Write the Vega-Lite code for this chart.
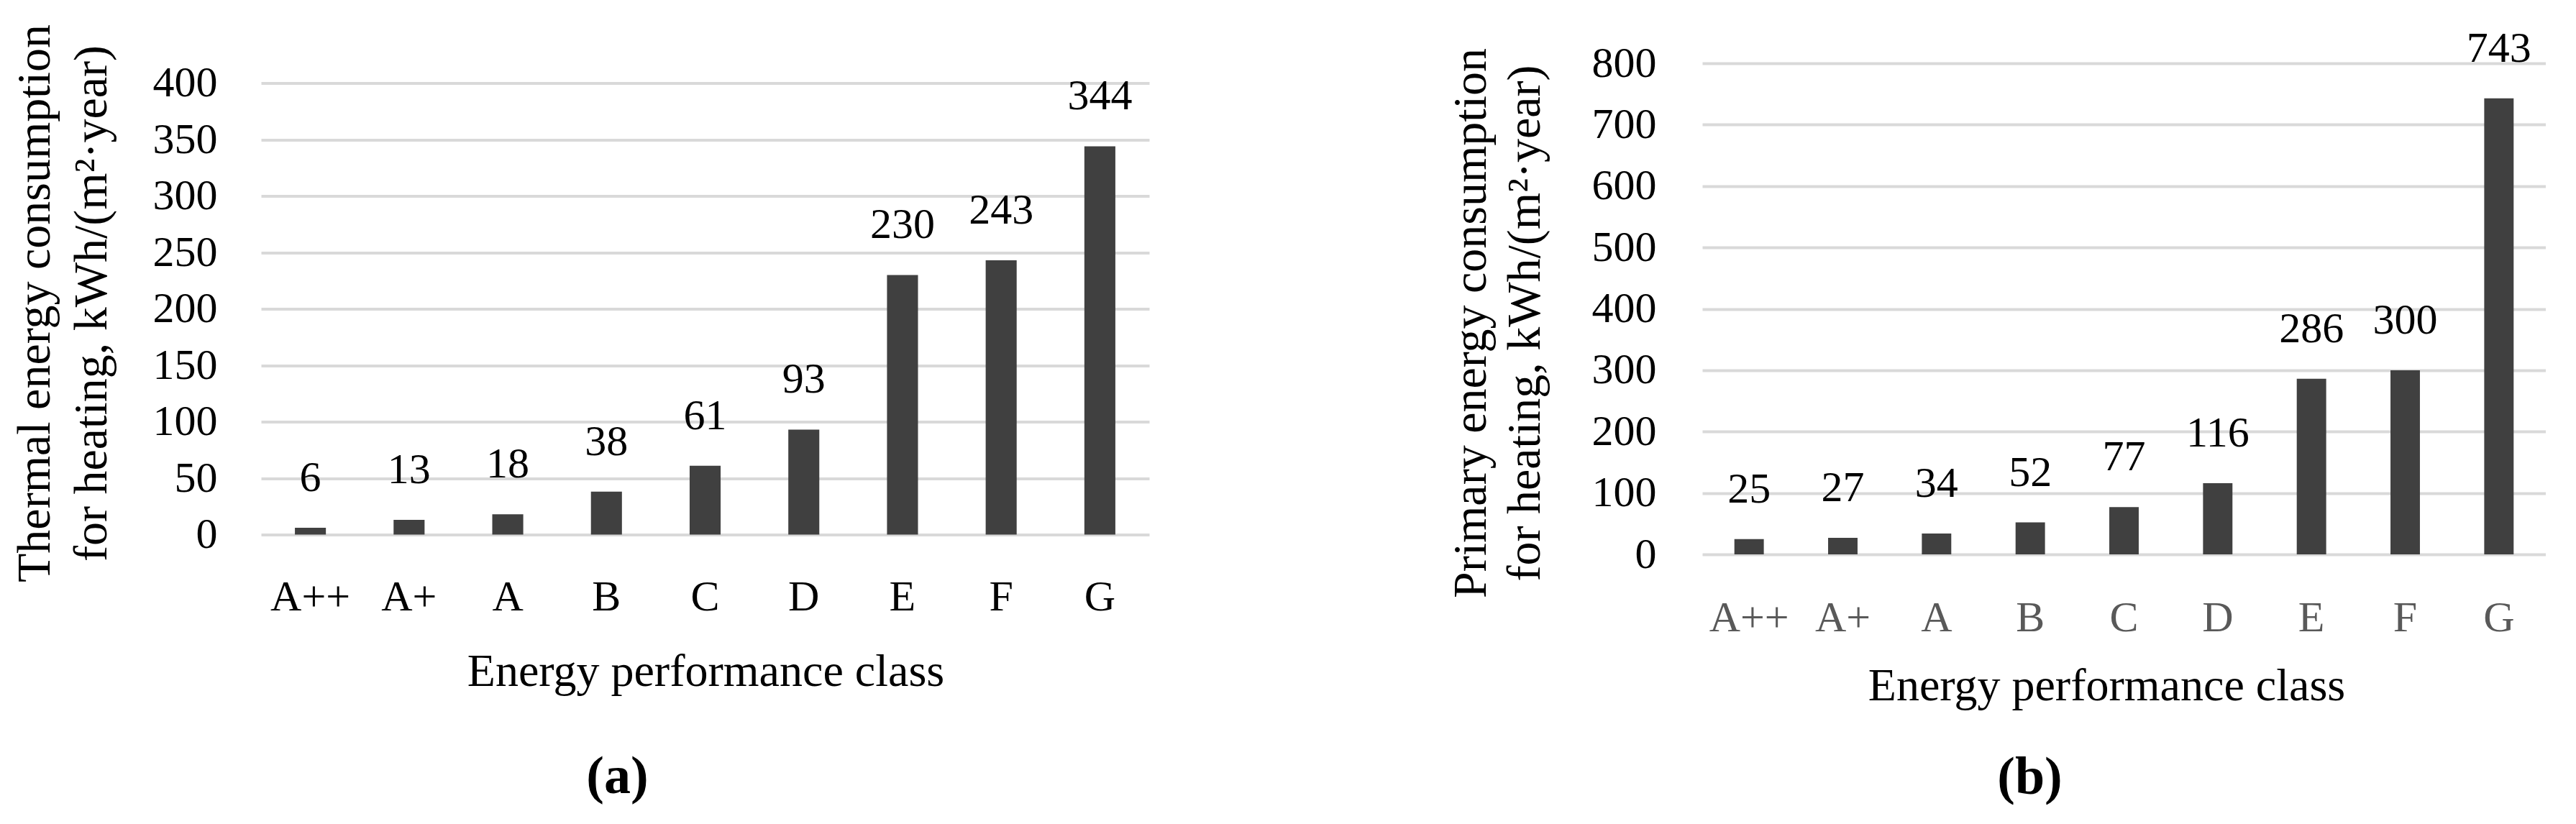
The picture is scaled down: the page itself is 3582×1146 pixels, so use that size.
{
  "$schema": "https://vega.github.io/schema/vega-lite/v6.json",
  "autosize": {"type": "pad"},
  "padding": {"left": 15, "top": 33, "right": 0, "bottom": 0},
  "background": "white",
  "config": {
    "font": "Liberation Serif",
    "view": {"stroke": null},
    "axis": {
      "labelFont": "Liberation Serif",
      "titleFont": "Liberation Serif",
      "labelFontSize": 60,
      "titleFontSize": 64,
      "labelColor": "#000000",
      "titleColor": "#000000",
      "titleFontWeight": "normal",
      "domain": false,
      "ticks": false,
      "tickSize": 0,
      "gridColor": "#d9d9d9",
      "gridWidth": 4
    },
    "title": {"font": "Liberation Serif", "color": "#000000"}
  },
  "datasets": {
    "thermal": [
      {"class": "A++", "value": 6},
      {"class": "A+", "value": 13},
      {"class": "A", "value": 18},
      {"class": "B", "value": 38},
      {"class": "C", "value": 61},
      {"class": "D", "value": 93},
      {"class": "E", "value": 230},
      {"class": "F", "value": 243},
      {"class": "G", "value": 344}
    ],
    "primary": [
      {"class": "A++", "value": 25},
      {"class": "A+", "value": 27},
      {"class": "A", "value": 34},
      {"class": "B", "value": 52},
      {"class": "C", "value": 77},
      {"class": "D", "value": 116},
      {"class": "E", "value": 286},
      {"class": "F", "value": 300},
      {"class": "G", "value": 743}
    ]
  },
  "bounds": "flush",
  "center": true,
  "spacing": 769,
  "hconcat": [
    {
      "width": 1235,
      "height": 628,
      "data": {"name": "thermal"},
      "title": {"text": "(a)", "orient": "bottom", "anchor": "middle", "frame": "group", "dx": -122, "offset": 136, "baseline": "alphabetic", "fontSize": 74, "fontWeight": "bold"},
      "encoding": {
        "x": {
          "field": "class", "type": "nominal", "sort": null,
          "scale": {"paddingInner": 0.686, "paddingOuter": 0.343},
          "axis": {"title": "Energy performance class", "labelAngle": 0, "labelPadding": 105, "labelBaseline": "alphabetic", "grid": false, "titleX": 618, "titleY": 210, "titleAlign": "center", "titleBaseline": "alphabetic"}
        },
        "y": {
          "field": "value", "type": "quantitative",
          "scale": {"domain": [0, 400], "nice": false},
          "axis": {"values": [0, 50, 100, 150, 200, 250, 300, 350, 400], "grid": true, "labelPadding": 61, "labelBaseline": "middle",
            "title": ["Thermal energy consumption", "for heating, kWh/(m²·year)"],
            "titleFontSize": 66, "titleLineHeight": 79, "titleX": -295, "titleY": 306, "titleAngle": -90, "titleAlign": "center", "titleBaseline": "alphabetic"}
        }
      },
      "layer": [
        {"mark": {"type": "bar", "color": "#404040"}},
        {"mark": {"type": "text", "baseline": "alphabetic", "dy": -51, "fontSize": 60, "color": "#000000", "font": "Liberation Serif"},
         "encoding": {"text": {"field": "value", "type": "quantitative"}}}
      ]
    },
    {
      "width": 1173,
      "height": 683,
      "data": {"name": "primary"},
      "title": {"text": "(b)", "orient": "bottom", "anchor": "middle", "frame": "group", "dx": -131, "offset": 118, "baseline": "alphabetic", "fontSize": 74, "fontWeight": "bold"},
      "encoding": {
        "x": {
          "field": "class", "type": "nominal", "sort": null,
          "scale": {"paddingInner": 0.686, "paddingOuter": 0.343},
          "axis": {"title": "Energy performance class", "labelAngle": 0, "labelPadding": 106, "labelBaseline": "alphabetic", "labelColor": "#595959", "grid": false, "titleX": 562, "titleY": 202, "titleAlign": "center", "titleBaseline": "alphabetic"}
        },
        "y": {
          "field": "value", "type": "quantitative",
          "scale": {"domain": [0, 800], "nice": false},
          "axis": {"values": [0, 100, 200, 300, 400, 500, 600, 700, 800], "grid": true, "labelPadding": 64, "labelBaseline": "middle",
            "title": ["Primary energy consumption", "for heating, kWh/(m²·year)"],
            "titleFontSize": 66, "titleLineHeight": 75, "titleX": -302, "titleY": 361, "titleAngle": -90, "titleAlign": "center", "titleBaseline": "alphabetic"}
        }
      },
      "layer": [
        {"mark": {"type": "bar", "color": "#404040"}},
        {"mark": {"type": "text", "baseline": "alphabetic", "dy": -51, "fontSize": 60, "color": "#000000", "font": "Liberation Serif"},
         "encoding": {"text": {"field": "value", "type": "quantitative"}}}
      ]
    }
  ]
}
